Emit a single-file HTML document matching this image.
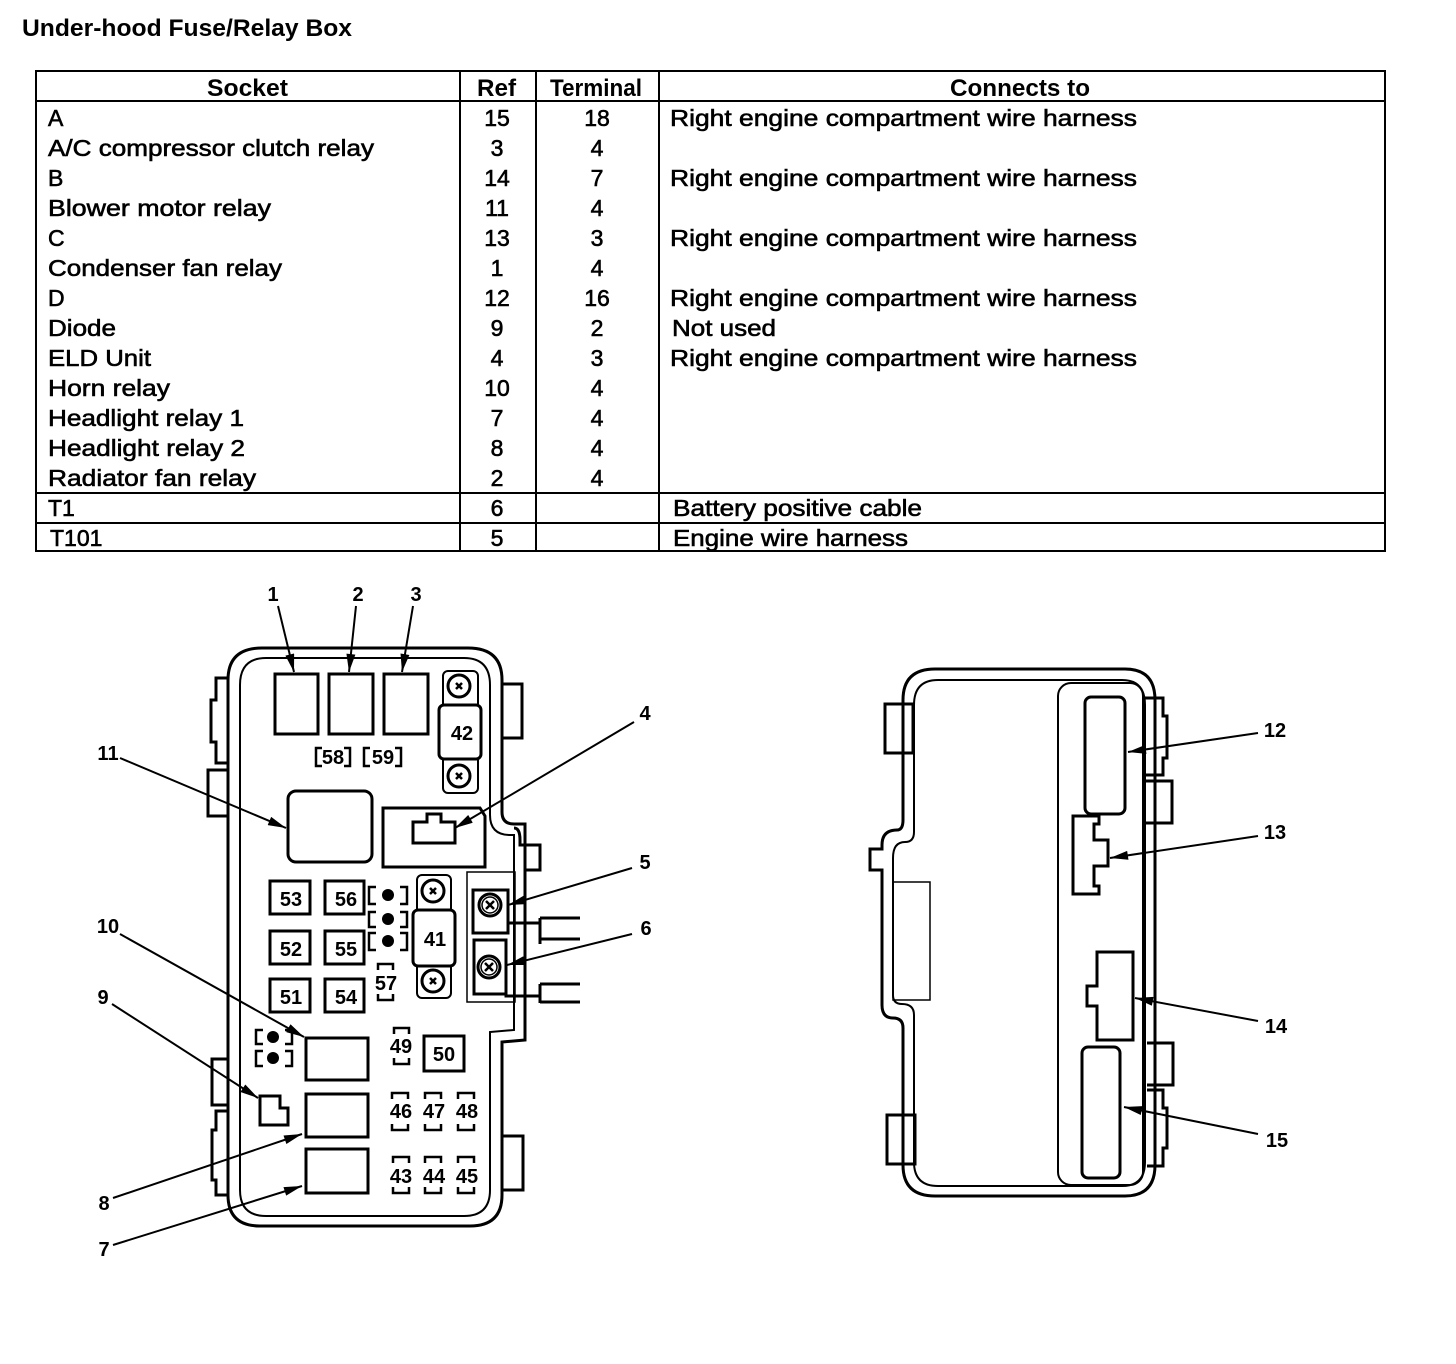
<!DOCTYPE html>
<html><head><meta charset="utf-8"><style>html,body{margin:0;padding:0;background:#fff}svg{display:block}</style></head>
<body>
<svg width="1456" height="1364" viewBox="0 0 1456 1364" xmlns="http://www.w3.org/2000/svg" font-family="Liberation Sans, sans-serif">
<defs>
<marker id="a" viewBox="0 0 20 10" refX="20" refY="5" markerWidth="20" markerHeight="9" orient="auto" markerUnits="userSpaceOnUse"><path d="M0,0 L20,5 L0,10 z" fill="#000"/></marker></defs>
<text x="22" y="36" font-size="24" font-weight="bold" textLength="330" lengthAdjust="spacingAndGlyphs">Under-hood Fuse/Relay Box</text>
<g fill="none" stroke="#000" stroke-width="2">
<rect x="36" y="71" width="1349" height="480"/>
<line x1="36" y1="101" x2="1385" y2="101"/>
<line x1="36" y1="493" x2="1385" y2="493"/>
<line x1="36" y1="523" x2="1385" y2="523"/>
<line x1="460" y1="71" x2="460" y2="551"/>
<line x1="536" y1="71" x2="536" y2="551"/>
<line x1="659" y1="71" x2="659" y2="551"/>
</g>
<g font-size="24" font-weight="bold">
<text x="207" y="96" textLength="81" lengthAdjust="spacingAndGlyphs">Socket</text><text x="477" y="96" textLength="39" lengthAdjust="spacingAndGlyphs">Ref</text><text x="550" y="96" textLength="92" lengthAdjust="spacingAndGlyphs">Terminal</text><text x="950" y="96" textLength="140" lengthAdjust="spacingAndGlyphs">Connects to</text>
</g>
<g font-size="23" stroke="#000" stroke-width="0.6">
<g>
<text x="48" y="126">A</text>
<text x="48" y="156" textLength="326" lengthAdjust="spacingAndGlyphs">A/C compressor clutch relay</text>
<text x="48" y="186">B</text>
<text x="48" y="216" textLength="223" lengthAdjust="spacingAndGlyphs">Blower motor relay</text>
<text x="48" y="246">C</text>
<text x="48" y="276" textLength="234" lengthAdjust="spacingAndGlyphs">Condenser fan relay</text>
<text x="48" y="306">D</text>
<text x="48" y="336" textLength="68" lengthAdjust="spacingAndGlyphs">Diode</text>
<text x="48" y="366" textLength="103" lengthAdjust="spacingAndGlyphs">ELD Unit</text>
<text x="48" y="396" textLength="122" lengthAdjust="spacingAndGlyphs">Horn relay</text>
<text x="48" y="426" textLength="196" lengthAdjust="spacingAndGlyphs">Headlight relay 1</text>
<text x="48" y="456" textLength="197" lengthAdjust="spacingAndGlyphs">Headlight relay 2</text>
<text x="48" y="486" textLength="208" lengthAdjust="spacingAndGlyphs">Radiator fan relay</text>
<text x="48" y="516">T1</text>
<text x="50" y="546">T101</text>
</g>
<g text-anchor="middle">
<text x="497" y="126">15</text><text x="497" y="156">3</text><text x="497" y="186">14</text><text x="497" y="216">11</text><text x="497" y="246">13</text><text x="497" y="276">1</text><text x="497" y="306">12</text><text x="497" y="336">9</text><text x="497" y="366">4</text><text x="497" y="396">10</text><text x="497" y="426">7</text><text x="497" y="456">8</text><text x="497" y="486">2</text><text x="497" y="516">6</text><text x="497" y="546">5</text>
<text x="597" y="126">18</text><text x="597" y="156">4</text><text x="597" y="186">7</text><text x="597" y="216">4</text><text x="597" y="246">3</text><text x="597" y="276">4</text><text x="597" y="306">16</text><text x="597" y="336">2</text><text x="597" y="366">3</text><text x="597" y="396">4</text><text x="597" y="426">4</text><text x="597" y="456">4</text><text x="597" y="486">4</text>
</g>
<g>
<text x="670" y="126" textLength="467" lengthAdjust="spacingAndGlyphs">Right engine compartment wire harness</text>
<text x="670" y="186" textLength="467" lengthAdjust="spacingAndGlyphs">Right engine compartment wire harness</text>
<text x="670" y="246" textLength="467" lengthAdjust="spacingAndGlyphs">Right engine compartment wire harness</text>
<text x="670" y="306" textLength="467" lengthAdjust="spacingAndGlyphs">Right engine compartment wire harness</text>
<text x="672" y="336" textLength="104" lengthAdjust="spacingAndGlyphs">Not used</text>
<text x="670" y="366" textLength="467" lengthAdjust="spacingAndGlyphs">Right engine compartment wire harness</text>
<text x="673" y="516" textLength="249" lengthAdjust="spacingAndGlyphs">Battery positive cable</text>
<text x="673" y="546" textLength="235" lengthAdjust="spacingAndGlyphs">Engine wire harness</text>
</g>
</g>

<g fill="none" stroke="#000" stroke-width="3">
<path d="M228,680 Q228,648 262,648 L468,648 Q502,648 502,680 L502,812 Q502,824 514,824 L525,824 L525,1040 L502,1042 L502,1195 Q502,1226 470,1226 L260,1226 Q228,1226 228,1195 Z"/>
<path d="M240,685 Q240,658 266,658 L464,658 Q490,658 490,685 L490,815 Q490,835 510,835 L514,835 L514,1030 L490,1032 L490,1190 Q490,1216 464,1216 L266,1216 Q240,1216 240,1190 Z" stroke-width="2"/>
<path d="M514,828 Q520,828 520,840 L520,845 L540,845 L540,870 L525,870"/>
<path d="M228,678 L216,678 L216,700 L211,700 L211,742 L216,742 L216,763 L228,763"/>
<path d="M228,770 L208,770 L208,816 L228,816"/>
<path d="M228,1059 L212,1059 L212,1105 L228,1105"/>
<path d="M228,1111 L216,1111 L216,1130 L212,1130 L212,1180 L216,1180 L216,1195 L228,1195"/>
<path d="M502,684 L522,684 L522,738 L502,738"/>
<path d="M502,1136 L523,1136 L523,1190 L502,1190"/>
<rect x="275" y="674" width="43" height="60"/>
<rect x="329" y="674" width="44" height="60"/>
<rect x="384" y="674" width="44" height="60"/>
<rect x="443" y="671" width="35" height="122" rx="5" stroke-width="2"/>
<rect x="439" y="705" width="42" height="54" rx="5" fill="#fff"/>
<circle cx="459" cy="686" r="11"/><circle cx="459" cy="776" r="11"/>
<rect x="288" y="791" width="84" height="71" rx="8"/>
<path d="M383,808 L480,808 L485,816 L485,867 L383,867 Z"/>
<path d="M413,843 L455,843 L455,822 L441,822 L441,814 L427,814 L427,822 L413,822 Z"/>
<rect x="270" y="881" width="40" height="33"/><rect x="325" y="881" width="39" height="33"/>
<rect x="270" y="931" width="40" height="33"/><rect x="325" y="931" width="39" height="33"/>
<rect x="270" y="979" width="40" height="33"/><rect x="325" y="979" width="39" height="33"/>
<rect x="417" y="875" width="34" height="123" rx="5" stroke-width="2"/>
<rect x="413" y="910" width="42" height="56" rx="5" fill="#fff"/>
<circle cx="433" cy="891" r="11"/><circle cx="433" cy="981" r="11"/>
<rect x="467" y="872" width="48" height="130" stroke-width="1.5"/>
<rect x="473" y="890" width="35" height="43"/><circle cx="490" cy="905" r="11"/><circle cx="490" cy="905" r="8" stroke-width="1.5"/>
<rect x="474" y="940" width="32" height="54"/><circle cx="489" cy="967" r="11"/><circle cx="489" cy="967" r="8" stroke-width="1.5"/>
<path d="M508,915 L508,923 L540,923 M540,918 L540,944 M540,918 L580,918 M540,939 L580,939"/>
<path d="M506,975 L506,996 L540,996 M540,984 L540,1003 M540,984 L580,984 M540,1002 L580,1002"/>
<rect x="306" y="1038" width="62" height="42"/>
<rect x="306" y="1094" width="62" height="43"/>
<rect x="306" y="1149" width="62" height="44"/>
<path d="M260,1096 L280,1096 L280,1108 L288,1108 L288,1125 L260,1125 Z"/>
<rect x="424" y="1036" width="40" height="35"/>
</g>
<g stroke="#000" stroke-width="2.5" fill="none">
<path d="M456,683 l6,6 m0,-6 l-6,6 M456,773 l6,6 m0,-6 l-6,6 M430,888 l6,6 m0,-6 l-6,6 M430,978 l6,6 m0,-6 l-6,6 M486,901 l8,8 m0,-8 l-8,8 M485,963 l8,8 m0,-8 l-8,8"/>
<path d="M322,748 h-6 v18 h6 M344,748 h6 v18 h-6 M370,748 h-6 v18 h6 M395,748 h6 v18 h-6"/>
<path d="M376,887 h-7 v17 h7 M400,887 h7 v17 h-7 M376,912 h-7 v15 h7 M400,912 h7 v15 h-7 M376,933 h-7 v17 h7 M400,933 h7 v17 h-7"/>
<path d="M263,1030 h-7 v14 h7 M285,1030 h7 v14 h-7 M263,1051 h-7 v15 h7 M285,1051 h7 v15 h-7"/>
<path d="M378,970 v-6 h15 v6 M378,994 v6 h15 v-6"/>
<path d="M394,1034 v-6 h15 v6 M394,1058 v6 h15 v-6"/>
<path d="M392,1099 v-6 h16 v6 M392,1124 v6 h16 v-6 M425,1099 v-6 h16 v6 M425,1124 v6 h16 v-6 M458,1099 v-6 h16 v6 M458,1124 v6 h16 v-6"/>
<path d="M393,1163 v-6 h16 v6 M393,1187 v6 h16 v-6 M425,1163 v-6 h16 v6 M425,1187 v6 h16 v-6 M458,1163 v-6 h16 v6 M458,1187 v6 h16 v-6"/>
</g>
<g fill="#000"><circle cx="273" cy="1037" r="6"/><circle cx="273" cy="1058" r="6"/><circle cx="388" cy="895" r="6"/><circle cx="388" cy="919" r="6"/><circle cx="388" cy="941" r="6"/></g>
<g font-size="20" font-weight="bold" text-anchor="middle">
<text x="333" y="764">58</text><text x="383" y="764">59</text>
<text x="462" y="740">42</text><text x="435" y="946">41</text>
<text x="291" y="906">53</text><text x="346" y="906">56</text>
<text x="291" y="956">52</text><text x="346" y="956">55</text>
<text x="291" y="1004">51</text><text x="346" y="1004">54</text>
<text x="386" y="990">57</text><text x="401" y="1053">49</text><text x="444" y="1061">50</text>
<text x="401" y="1118">46</text><text x="434" y="1118">47</text><text x="467" y="1118">48</text>
<text x="401" y="1183">43</text><text x="434" y="1183">44</text><text x="467" y="1183">45</text>
</g>
<g stroke="#000" stroke-width="2" marker-end="url(#a)">
<line x1="278" y1="606" x2="294" y2="672"/>
<line x1="356" y1="606" x2="349" y2="672"/>
<line x1="413" y1="606" x2="402" y2="672"/>
<line x1="634" y1="722" x2="455" y2="828"/>
<line x1="632" y1="868" x2="508" y2="905"/>
<line x1="632" y1="934" x2="507" y2="965"/>
<line x1="120" y1="758" x2="286" y2="828"/>
<line x1="120" y1="934" x2="304" y2="1037"/>
<line x1="112" y1="1004" x2="258" y2="1098"/>
<line x1="113" y1="1198" x2="302" y2="1134"/>
<line x1="113" y1="1245" x2="302" y2="1186"/>
</g>
<g font-size="20" font-weight="bold" text-anchor="middle">
<text x="273" y="601">1</text><text x="358" y="601">2</text><text x="416" y="601">3</text>
<text x="645" y="720">4</text><text x="645" y="869">5</text><text x="646" y="935">6</text>
<text x="108" y="760">11</text><text x="108" y="933">10</text><text x="103" y="1004">9</text>
<text x="104" y="1210">8</text><text x="104" y="1256">7</text>
</g>

<g fill="none" stroke="#000" stroke-width="3">
<path d="M903,700 Q903,669 935,669 L1125,669 Q1155,669 1155,700 L1155,1165 Q1155,1196 1125,1196 L935,1196 Q903,1196 903,1165 L903,1028 Q903,1018 893,1018 Q882,1018 882,1005 L882,870 L870,870 L870,849 L882,849 L882,845 Q882,830 897,830 Q903,830 903,820 Z"/>
<path d="M914,705 Q914,680 938,680 L1122,680 Q1145,680 1145,705 L1145,1162 Q1145,1186 1122,1186 L938,1186 Q914,1186 914,1162 L914,1015 Q914,1004 902,1004 Q893,1004 893,995 L893,858 Q893,842 905,842 Q914,842 914,832 Z" stroke-width="2"/>
<rect x="885" y="704" width="28" height="49"/>
<rect x="887" y="1115" width="28" height="49"/>
<rect x="893" y="882" width="37" height="118" stroke-width="1.5"/>
<rect x="1058" y="683" width="85" height="502" rx="13" stroke-width="2"/>
<rect x="1085" y="697" width="40" height="117" rx="6"/>
<path d="M1073,816 L1099,816 L1099,824 L1094,824 L1094,840 L1108,840 L1108,866 L1094,866 L1094,886 L1099,886 L1099,894 L1073,894 Z"/>
<path d="M1097,952 L1133,952 L1133,1040 L1097,1040 L1097,1006 L1087,1006 L1087,986 L1097,986 Z"/>
<rect x="1082" y="1047" width="38" height="131" rx="6"/>
<path d="M1145,698 L1163,698 L1163,716 L1167,716 L1167,758 L1163,758 L1163,775 L1145,775"/>
<path d="M1145,781 L1172,781 L1172,823 L1145,823"/>
<path d="M1147,1043 L1173,1043 L1173,1085 L1147,1085"/>
<path d="M1147,1090 L1163,1090 L1163,1108 L1167,1108 L1167,1148 L1163,1148 L1163,1166 L1147,1166"/>
</g>
<g stroke="#000" stroke-width="2" marker-end="url(#a)">
<line x1="1258" y1="733" x2="1128" y2="752"/>
<line x1="1258" y1="836" x2="1110" y2="858"/>
<line x1="1258" y1="1021" x2="1135" y2="998"/>
<line x1="1258" y1="1134" x2="1124" y2="1107"/>
</g>
<g font-size="20" font-weight="bold" text-anchor="middle">
<text x="1275" y="737">12</text><text x="1275" y="839">13</text><text x="1276" y="1033">14</text><text x="1277" y="1147">15</text>
</g>
</svg>
</body></html>
